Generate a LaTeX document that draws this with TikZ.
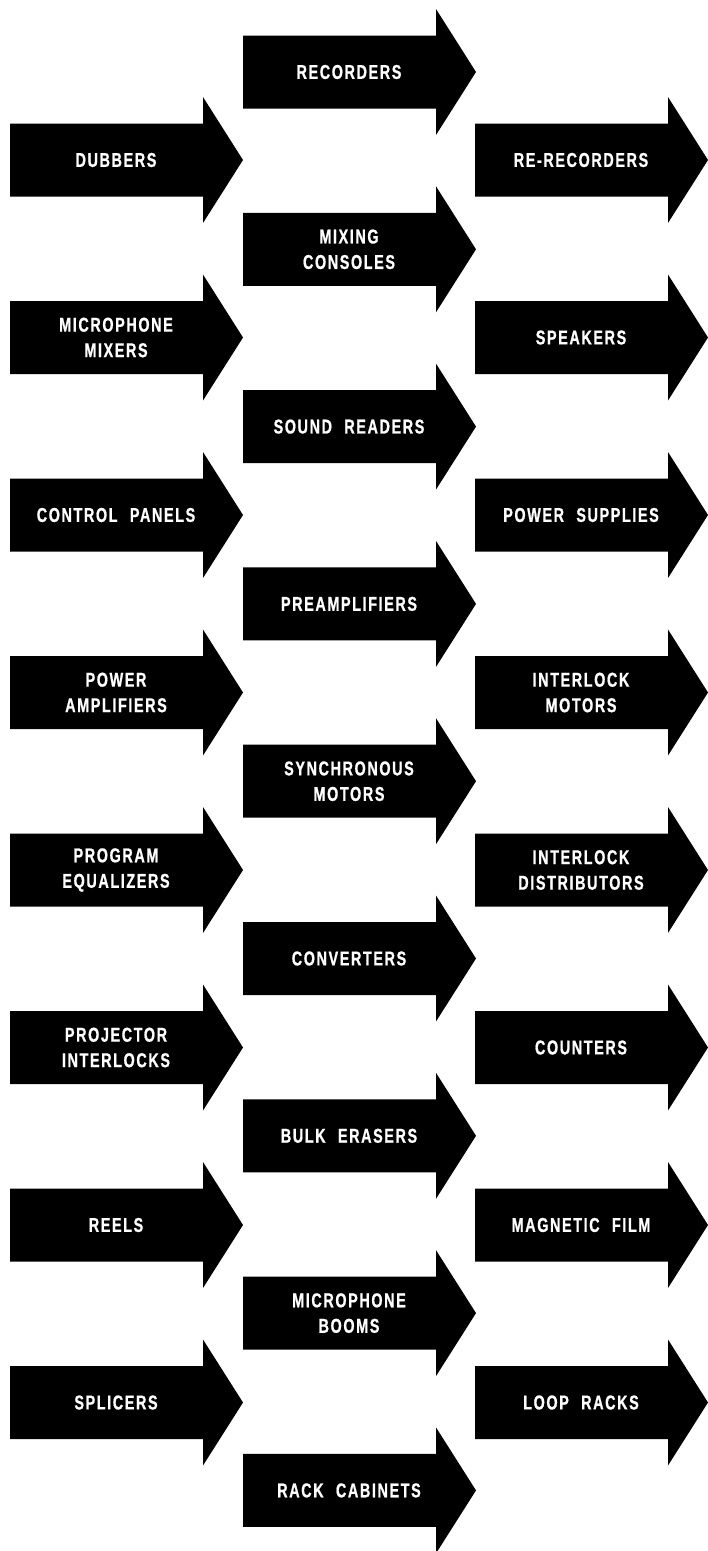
\documentclass[tikz,border=0pt]{standalone}
\usepackage{fontspec}
\newfontfamily\lblfont{Liberation Sans}[BoldFont={Liberation Sans Bold}, BoldFeatures={FakeBold=0.8}, FakeStretch=0.72, LetterSpace=8, WordSpace=2.2]
\tikzset{
  lbl/.style={text=white, font=\lblfont\bfseries\fontsize{20}{25.5}\selectfont, align=center, inner sep=0pt},
  arrowfill/.style={fill=black}
}
\newcommand\bigarrow[4]{%
  \fill[arrowfill] (#2,#3-36.5) -- (#2+193,#3-36.5) -- (#2+193,#3-63) -- (#2+233,#3)
    -- (#2+193,#3+63) -- (#2+193,#3+36.5) -- (#2,#3+36.5) -- cycle;
  \node[lbl] (#1) at (#2+106,#3) {#4};
}
\begin{document}
\begin{tikzpicture}[x=1pt,y=-1pt]
\useasboundingbox (0,0) rectangle (708,1551);
\fill[white] (0,0) rectangle (708,1551);
\clip (0,0) rectangle (708,1551);
% left column
\bigarrow{dubbers}{10}{160}{DUBBERS}
\bigarrow{micmixers}{10}{337.5}{MICROPHONE\\MIXERS}
\bigarrow{control}{10}{515}{CONTROL PANELS}
\bigarrow{poweramp}{10}{692.5}{POWER\\AMPLIFIERS}
\bigarrow{progeq}{10}{870}{PROGRAM\\EQUALIZERS}
\bigarrow{projint}{10}{1047.5}{PROJECTOR\\INTERLOCKS}
\bigarrow{reels}{10}{1225}{REELS}
\bigarrow{splicers}{10}{1402.5}{SPLICERS}
% middle column
\bigarrow{recorders}{243}{72}{RECORDERS}
\bigarrow{mixing}{243}{249.3}{MIXING\\CONSOLES}
\bigarrow{readers}{243}{426.6}{SOUND READERS}
\bigarrow{preamps}{243}{603.9}{PREAMPLIFIERS}
\bigarrow{syncmot}{243}{781.2}{SYNCHRONOUS\\MOTORS}
\bigarrow{converters}{243}{958.5}{CONVERTERS}
\bigarrow{bulk}{243}{1135.8}{BULK ERASERS}
\bigarrow{booms}{243}{1313.1}{MICROPHONE\\BOOMS}
\bigarrow{rack}{243}{1490.4}{RACK CABINETS}
% right column
\bigarrow{rerec}{475}{160}{RE-RECORDERS}
\bigarrow{speakers}{475}{337.5}{SPEAKERS}
\bigarrow{powsup}{475}{515}{POWER SUPPLIES}
\bigarrow{intmot}{475}{692.5}{INTERLOCK\\MOTORS}
\bigarrow{intdist}{475}{870}{INTERLOCK\\DISTRIBUTORS}
\bigarrow{counters}{475}{1047.5}{COUNTERS}
\bigarrow{magfilm}{475}{1225}{MAGNETIC FILM}
\bigarrow{loop}{475}{1402.5}{LOOP RACKS}
\end{tikzpicture}
\end{document}
